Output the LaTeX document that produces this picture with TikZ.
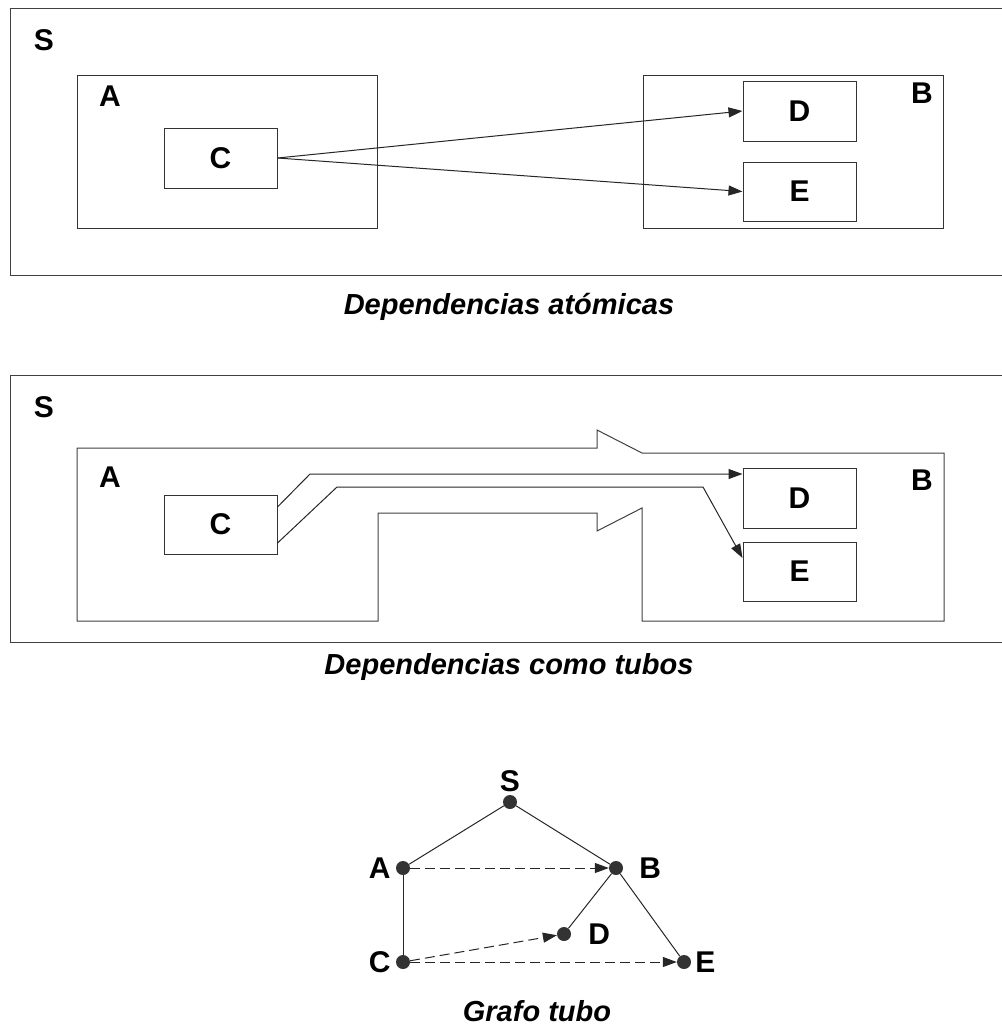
\documentclass[tikz,border=0pt]{standalone}
\usepackage{fontspec}
\setmainfont{Liberation Sans}
\usetikzlibrary{arrows.meta}

\begin{document}
\begin{tikzpicture}[x=1pt,y=-1pt,>={Triangle[length=14pt,width=10pt]}]
  \tikzstyle{frame}=[draw=black!75,line width=1pt]
  \tikzstyle{box}=[rectangle,draw=black!80,line width=1pt,font=\fontsize{30}{36}\bfseries]
  \tikzstyle{lbl}=[inner sep=0pt,font=\fontsize{30}{36}\bfseries]
  \tikzstyle{caption}=[inner sep=0pt,font=\fontsize{29}{34}\bfseries\itshape]
  \tikzstyle{link}=[black!85,line width=1pt]
  \tikzstyle{node}=[circle,fill=black!80,inner sep=0pt,minimum size=14pt]

  \useasboundingbox (0,0) rectangle (1002,1029);

  % atomic dependencies
  \begin{scope}
    \draw[frame] (1002,8) -- (10,8) -- (10,275) -- (1002,275);
    \node[lbl](s1) at (44,40){S};
    \node[box,minimum width=300pt,minimum height=153pt](a1) at (227,151.5){};
    \node[box,minimum width=300pt,minimum height=153pt](b1) at (793,151.5){};
    \node[lbl](la1) at (110,96){A};
    \node[lbl](lb1) at (922,93){B};
    \node[box,minimum width=113pt,minimum height=60pt](c1) at (220.5,158){C};
    \node[box,minimum width=113pt,minimum height=60pt](d1) at (799.5,111){D};
    \node[box,minimum width=113pt,minimum height=59pt](e1) at (799.5,191.5){E};

    \path[->,link]
    (c1.east) edge (d1.west)
    (c1.east) edge (e1.west);
    \node[caption](cap1) at (509,307){Dependencias atómicas};
  \end{scope}

  % dependencies as tubes
  \begin{scope}
    \draw[frame] (1002,375) -- (10,375) -- (10,642) -- (1002,642);
    \node[lbl](s2) at (44,407){S};
    \draw[frame] (77,448) -- (597,448) -- (597,430) -- (642,453) -- (944,453)
      -- (944,621) -- (642,621) -- (642,508) -- (597,531) -- (597,513)
      -- (378,513) -- (378,621) -- (77,621) -- cycle;
    \node[lbl](la2) at (110,477){A};
    \node[lbl](lb2) at (922,480){B};
    \node[box,minimum width=113pt,minimum height=59pt](c2) at (220.5,524.5){C};
    \node[box,minimum width=113pt,minimum height=60pt](d2) at (799.5,498){D};
    \node[box,minimum width=113pt,minimum height=59pt](e2) at (799.5,571.5){E};

    \draw[->,link] ([yshift=17.5pt]c2.east) -- (310,474) -- ([yshift=24pt]d2.west);
    \draw[->,link] ([yshift=-18.5pt]c2.east) -- (337,487) -- (703,487) -- ([yshift=13.5pt]e2.west);
    \node[caption](cap2) at (509,667){Dependencias como tubos};
  \end{scope}

  % tube graph
  \begin{scope}
    \node[node,label={[lbl,label distance=3pt]above:S}](s) at (510,802){};
    \node[node,label={[lbl,label distance=5pt]left:A}](a) at (403,868){};
    \node[node,label={[lbl,label distance=16pt]right:B}](b) at (616,868){};
    \node[node,label={[lbl,label distance=17pt]right:D}](d) at (564,934){};
    \node[node,label={[lbl,label distance=5pt]left:C}](c) at (403,962){};
    \node[node,label={[lbl,label distance=4pt]right:E}](e) at (684,962){};

    \path[link]
    (s) edge (a)
    (s) edge (b)
    (a) edge (c)
    (b) edge (d)
    (b) edge (e);
    \path[->,link,dash pattern=on 10pt off 5pt]
    (a) edge (b)
    (c) edge (d)
    (c) edge (e);
    \node[caption](cap3) at (537,1011){Grafo tubo};
  \end{scope}
\end{tikzpicture}
\end{document}
